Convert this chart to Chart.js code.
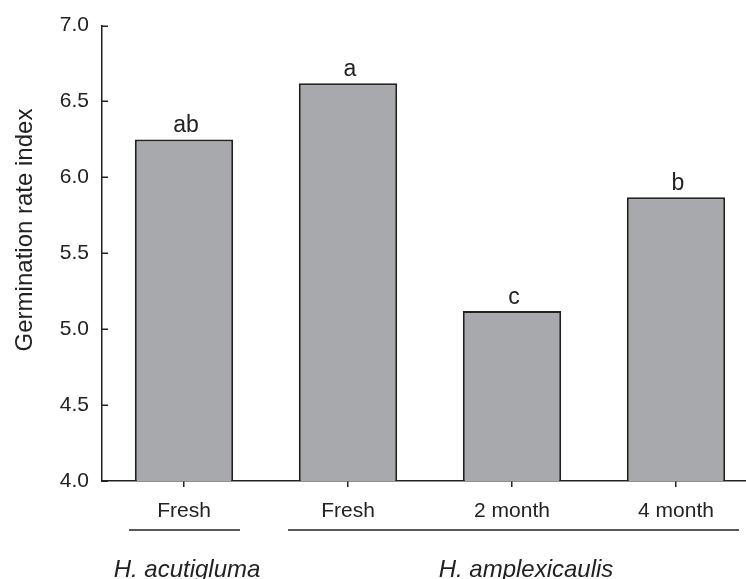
<!DOCTYPE html>
<html><head><meta charset="utf-8">
<script src="https://cdn.jsdelivr.net/npm/chart.js@4/dist/chart.umd.min.js"></script>
<style>html,body{margin:0;padding:0;background:#fff;overflow:hidden;width:746px;height:579px}canvas{display:block}</style>
</head><body>
<canvas id="c" width="770" height="579"></canvas>
<script>
const categories = ['Fresh', 'Fresh', '2 month', '4 month'];
const values = [6.25, 6.62, 5.12, 5.87];
const letters = ['ab', 'a', 'c', 'b'];
const yTicks = [4.0, 4.5, 5.0, 5.5, 6.0, 6.5, 7.0];
const groupNames = ['H. acutigluma', 'H. amplexicaulis'];
const groupFirst = [0, 1];
const groupLast = [0, 3];
const yTitle = 'Germination rate index';

const FONT = '"Liberation Sans", Arial, Helvetica, sans-serif';
const INK = '#222';

const deco = {
  id: 'deco',
  afterDraw(chart) {
    const ctx = chart.ctx, xs = chart.scales.x, ys = chart.scales.y, ca = chart.chartArea;
    ctx.save();
    ctx.strokeStyle = INK; ctx.lineWidth = 1.5;
    ys.ticks.forEach(t => {
      const py = Math.round(ys.getPixelForValue(t.value)) + 0.25;
      ctx.beginPath(); ctx.moveTo(ca.left, py); ctx.lineTo(ca.left + 6, py); ctx.stroke();
    });
    ctx.fillStyle = INK;
    ctx.font = '23px ' + FONT;
    ctx.textAlign = 'center'; ctx.textBaseline = 'alphabetic';
    chart.getDatasetMeta(0).data.forEach((bar, i) => {
      ctx.fillText(letters[i], bar.x + 2, bar.y - 7);
    });
    ctx.save();
    ctx.translate(32, 230); ctx.rotate(-Math.PI / 2);
    ctx.font = '24px ' + FONT;
    ctx.fillText(yTitle, 0, 0);
    ctx.restore();
    const padL = [55, 60], padR = [56, 63], shift = [3, 14];
    ctx.font = 'italic 24px ' + FONT;
    groupNames.forEach((g, i) => {
      const a = xs.getPixelForValue(groupFirst[i]) - padL[i];
      const b = xs.getPixelForValue(groupLast[i]) + padR[i];
      ctx.beginPath(); ctx.moveTo(a, 530); ctx.lineTo(b, 530); ctx.stroke();
      const c = (xs.getPixelForValue(groupFirst[i]) + xs.getPixelForValue(groupLast[i])) / 2 + shift[i];
      ctx.fillText(g, c, 577);
    });
    ctx.restore();
  }
};

new Chart(document.getElementById('c'), {
  type: 'bar',
  data: {
    labels: categories,
    datasets: [{
      data: values,
      backgroundColor: '#a8a9ac',
      borderColor: INK,
      borderWidth: 2,
      borderSkipped: 'bottom',
      barPercentage: 0.6,
      categoryPercentage: 1.0
    }]
  },
  options: {
    responsive: false,
    animation: false,
    devicePixelRatio: 1,
    layout: { padding: { left: 0, right: 12, top: 23, bottom: 0 } },
    plugins: { legend: { display: false }, tooltip: { enabled: false } },
    scales: {
      x: {
        offset: true,
        grid: { display: true, drawOnChartArea: false, drawTicks: true, tickLength: 6, offset: false, color: INK, lineWidth: 1.5 },
        border: { display: true, color: INK, width: 1.5 },
        ticks: { color: INK, font: { family: FONT, size: 21 }, padding: 12, maxRotation: 0, autoSkip: false },
        afterFit(s) { s.height = 98; }
      },
      y: {
        min: 4, max: 7,
        afterBuildTicks(s) { s.ticks = yTicks.map(v => ({ value: v })); },
        grid: { display: true, drawOnChartArea: false, drawTicks: false },
        border: { display: true, color: INK, width: 1.5 },
        ticks: { color: INK, font: { family: FONT, size: 21 }, padding: 13, callback: v => Number(v).toFixed(1) },
        afterFit(s) { s.width = 102; }
      }
    }
  },
  plugins: [deco]
});
</script>
</body></html>
